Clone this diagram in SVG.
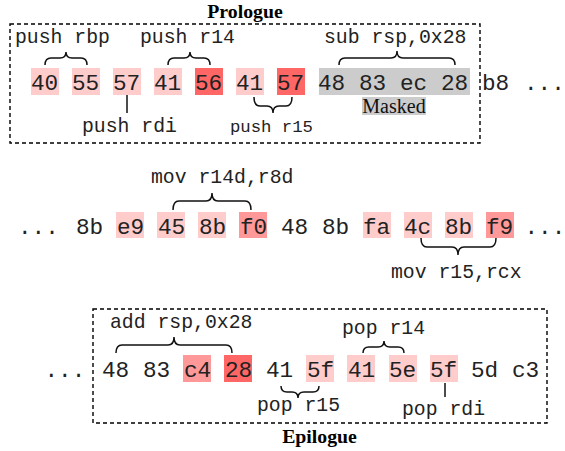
<svg xmlns="http://www.w3.org/2000/svg" width="565" height="451" viewBox="0 0 565 451">
<style>
.b{font-family:"Liberation Mono","DejaVu Sans Mono",monospace;font-size:22.7px;fill:#222}
.l{font-family:"Liberation Mono","DejaVu Sans Mono",monospace;font-size:19.8px;fill:#222}
.s{font-family:"Liberation Mono","DejaVu Sans Mono",monospace;font-size:17.3px;fill:#222}
.t{font-family:"Liberation Serif","Times New Roman",serif;font-size:19.8px;font-weight:bold;fill:#000}
.m{font-family:"Liberation Serif","Times New Roman",serif;font-size:20px;fill:#111}
.box{fill:none;stroke:#000;stroke-width:1.4;stroke-dasharray:4 3}
.c{fill:none;stroke:#111;stroke-width:1.5}
.p1{fill:#ffcccc}.p2{fill:#ff9999}.p3{fill:#ff6666}.g{fill:#cccccc}
</style>

<g id="prologue">
<rect class="box" x="10" y="24" width="470" height="119"/>
<text class="t" x="245" y="18" text-anchor="middle">Prologue</text>
<rect class="p1" x="31" y="68" width="28" height="27"/>
<rect class="p1" x="72" y="68" width="28" height="27"/>
<rect class="p1" x="113" y="68" width="28" height="27"/>
<rect class="p1" x="154" y="68" width="28" height="27"/>
<rect class="p3" x="195" y="68" width="28" height="27"/>
<rect class="p1" x="236" y="68" width="28" height="27"/>
<rect class="p3" x="277" y="68" width="28" height="27"/>
<rect class="g" x="319" y="68" width="151" height="27"/>
<rect class="g" x="362" y="97" width="64" height="18"/>
<text class="b" y="89.5"><tspan x="31">40</tspan><tspan x="72">55</tspan><tspan x="113">57</tspan><tspan x="154">41</tspan><tspan x="195">56</tspan><tspan x="236">41</tspan><tspan x="277">57</tspan><tspan x="318">48</tspan><tspan x="359">83</tspan><tspan x="400">ec</tspan><tspan x="441">28</tspan><tspan x="482">b8</tspan><tspan x="524">...</tspan></text>
<text class="m" x="394" y="112.5" text-anchor="middle">Masked</text>
<text class="l" x="15" y="43">push rbp</text>
<text class="l" x="140" y="43">push r14</text>
<text class="l" x="324" y="43">sub rsp,0x28</text>
<text class="l" x="82" y="132">push rdi</text>
<text class="s" x="230" y="132">push r15</text>
</g>

<g id="middle">
<rect class="p1" x="116" y="212" width="28" height="26"/>
<rect class="p1" x="157" y="212" width="28" height="26"/>
<rect class="p1" x="198" y="212" width="28" height="26"/>
<rect class="p2" x="239" y="212" width="28" height="26"/>
<rect class="p1" x="363" y="212" width="28" height="26"/>
<rect class="p1" x="404" y="212" width="28" height="26"/>
<rect class="p1" x="445" y="212" width="28" height="26"/>
<rect class="p2" x="486" y="212" width="28" height="26"/>
<text class="b" y="233.5"><tspan x="18">...</tspan><tspan x="76">8b</tspan><tspan x="117">e9</tspan><tspan x="158">45</tspan><tspan x="199">8b</tspan><tspan x="240">f0</tspan><tspan x="281">48</tspan><tspan x="322">8b</tspan><tspan x="363">fa</tspan><tspan x="404">4c</tspan><tspan x="445">8b</tspan><tspan x="486">f9</tspan><tspan x="524.5">...</tspan></text>
<text class="l" x="151" y="183">mov r14d,r8d</text>
<text class="l" x="391" y="278">mov r15,rcx</text>
</g>

<g id="epilogue">
<rect class="box" x="93" y="309" width="454" height="114"/>
<text class="t" x="319.5" y="443" text-anchor="middle">Epilogue</text>
<rect class="p2" x="183" y="355" width="28" height="27"/>
<rect class="p3" x="224" y="355" width="28" height="27"/>
<rect class="p1" x="306" y="355" width="28" height="27"/>
<rect class="p1" x="347" y="355" width="28" height="27"/>
<rect class="p1" x="389" y="355" width="28" height="27"/>
<rect class="p1" x="430" y="355" width="28" height="27"/>
<text class="b" y="376.5"><tspan x="44.5">...</tspan><tspan x="102">48</tspan><tspan x="143">83</tspan><tspan x="184">c4</tspan><tspan x="225">28</tspan><tspan x="266">41</tspan><tspan x="307">5f</tspan><tspan x="348">41</tspan><tspan x="389">5e</tspan><tspan x="430">5f</tspan><tspan x="471">5d</tspan><tspan x="512">c3</tspan></text>
<text class="l" x="110" y="328">add rsp,0x28</text>
<text class="l" x="342" y="334">pop r14</text>
<text class="l" x="257" y="411">pop r15</text>
<text class="l" x="402" y="415">pop rdi</text>
</g>

<g id="connectors">
<path class="c" d="M45,65 Q45,58 51,58 L60,58 Q66,58 66,52 Q66,58 72,58 L81,58 Q87,58 87,65"/>
<path class="c" d="M168,65 Q168,58 174,58 L184,58 Q190,58 190,52 Q190,58 196,58 L204,58 Q210,58 210,65"/>
<path class="c" d="M339,65 Q339,58 345,58 L391,58 Q397,58 397,51 Q397,58 403,58 L449,58 Q455,58 455,65"/>
<path class="c" d="M127,95 L127,113"/>
<path class="c" d="M254,97 Q254,106 260,106 L267,106 Q273,106 273,113 Q273,106 279,106 L286,106 Q292,106 292,97"/>
<path class="c" d="M173,210 Q173,201 179,201 L206,201 Q212,201 212,193 Q212,201 218,201 L245,201 Q251,201 251,210"/>
<path class="c" d="M421,238 Q421,247 427,247 L452,247 Q458,247 458,255 Q458,247 464,247 L490,247 Q496,247 496,238"/>
<path class="c" d="M116,353 Q116,345 122,345 L168,345 Q174,345 174,337 Q174,345 180,345 L226,345 Q232,345 232,353"/>
<path class="c" d="M363,353 Q363,347 369,347 L378,347 Q384,347 384,341 Q384,347 390,347 L398,347 Q404,347 404,353"/>
<path class="c" d="M281,386 Q281,392 287,392 L292,392 Q298,392 298,398 Q298,392 304,392 L313,392 Q319,392 319,386"/>
<path class="c" d="M445,383 L445,397"/>
</g>
</svg>
